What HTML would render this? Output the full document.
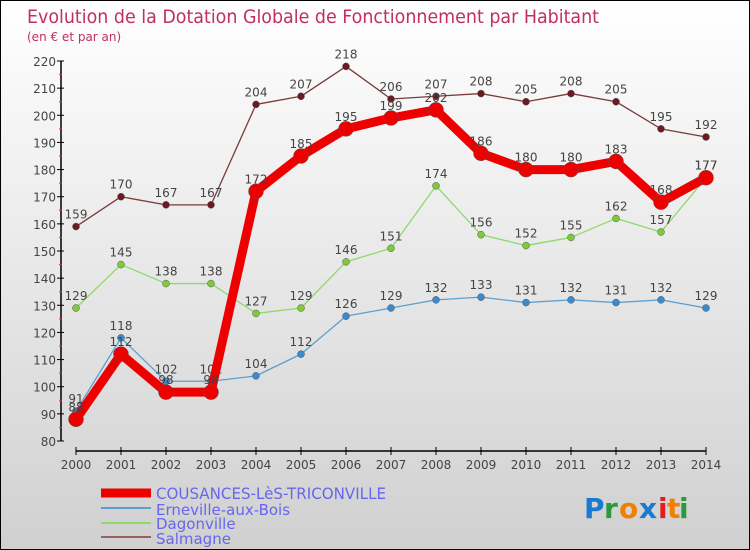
<!DOCTYPE html>
<html><head><meta charset="utf-8"><style>
body{margin:0;}
#c{position:relative;width:748px;height:548px;border:1px solid #000;background:linear-gradient(#ffffff,#d0d0d0);font-family:"DejaVu Sans","Liberation Sans",sans-serif;overflow:hidden;}
svg text{font-family:"DejaVu Sans","Liberation Sans",sans-serif;}
</style></head><body>
<div id="c">
<svg id="s" width="748" height="548" xmlns="http://www.w3.org/2000/svg">
<text x="26" y="22" font-size="19" fill="#c0305a" textLength="572" lengthAdjust="spacingAndGlyphs">Evolution de la Dotation Globale de Fonctionnement par Habitant</text>
<text x="26" y="40" font-size="12" fill="#c0305a">(en € et par an)</text>
<g id="axes"></g><g id="series"></g>
<g>
<line x1="100" y1="492" x2="150" y2="492" stroke="#e00" stroke-width="9"/>
<text x="155" y="498" font-size="16" fill="#6666ee" textLength="230" lengthAdjust="spacingAndGlyphs">COUSANCES-LèS-TRICONVILLE</text>
<line x1="100" y1="507" x2="150" y2="507" stroke="#5b9fcf" stroke-width="2"/>
<text x="155" y="514" font-size="15" fill="#6666ee">Erneville-aux-Bois</text>
<line x1="100" y1="522" x2="150" y2="522" stroke="#8fd96a" stroke-width="2"/>
<text x="155" y="528" font-size="15" fill="#6666ee">Dagonville</text>
<line x1="100" y1="536" x2="150" y2="536" stroke="#9a6060" stroke-width="2"/>
<text x="155" y="543" font-size="15" fill="#6666ee">Salmagne</text>
</g>
<g font-size="28" font-weight="bold">
<text x="583" y="517" fill="#1a7ad0">P</text><text x="603" y="517" fill="#2a9a40">r</text><text x="618" y="517" fill="#f08000">o</text><text x="638" y="517" fill="#1a7ad0">x</text><text x="657" y="517" fill="#e02020">i</text><text x="666" y="517" fill="#f08000">t</text><text x="678" y="517" fill="#2a9a40">i</text>
</g>
</svg></div>
<script>
const years=["2000","2001","2002","2003","2004","2005","2006","2007","2008","2009","2010","2011","2012","2013","2014"];
const yTicks=[80,90,100,110,120,130,140,150,160,170,180,190,200,210,220];
const cousances=[88,112,98,98,172,185,195,199,202,186,180,180,183,168,177];
const erneville=[91,118,102,102,104,112,126,129,132,133,131,132,131,132,129];
const dagonville=[129,145,138,138,127,129,146,151,174,156,152,155,162,157,177];
const salmagne=[159,170,167,167,204,207,218,206,207,208,205,208,205,195,192];
const NS="http://www.w3.org/2000/svg";
function X(i){return 75+i*(630/14);}
function Y(v){return 440-(v-80)*(380/140);}
function mk(t,a,p){const e=document.createElementNS(NS,t);for(const k in a)e.setAttribute(k,a[k]);p.appendChild(e);return e;}
const ax=document.getElementById('axes');
const yl=mk('line',{x1:60,y1:60,x2:60,y2:440,stroke:'#000','stroke-width':1.5},ax);


yTicks.forEach(v=>{
 mk('line',{x1:56,y1:Y(v),x2:63,y2:Y(v),stroke:'#000'},ax);
 if(v<220) mk('line',{x1:58,y1:Y(v+5),x2:61,y2:Y(v+5),stroke:'#e03030'},ax);
 const t=mk('text',{x:55,y:Y(v)+5,'text-anchor':'end','font-size':12,fill:'#444'},ax);t.textContent=v;
 
 
});
const xl=mk('line',{x1:75,y1:450,x2:705,y2:450,stroke:'#000','stroke-width':1.5},ax);


years.forEach((y,i)=>{
 mk('line',{x1:X(i),y1:446,x2:X(i),y2:454,stroke:'#000'},ax);
 const t=mk('text',{x:X(i),y:468,'text-anchor':'middle','font-size':12,fill:'#444'},ax);t.textContent=y;
 
 
});
const sg=document.getElementById('series');
function draw(data,name,color,dot,w,r){
 const g=mk('g',{},sg);
 
 
 const pl=mk('polyline',{points:data.map((v,i)=>X(i)+','+Y(v)).join(' '),fill:'none',stroke:color,'stroke-width':w,'stroke-linejoin':'round'},g);
 
 
 data.forEach((v,i)=>{
  const c=mk('circle',{cx:X(i),cy:Y(v),r:r,fill:dot,stroke:'#555','stroke-width':0.5},g);
  
  
  const t=mk('text',{x:X(i),y:Y(v)-8,'text-anchor':'middle','font-size':12,fill:'#444'},g);t.textContent=v;
  
  
 });
}
draw(salmagne,'salmagne','#7a3a3a','#6a1a20',1.3,3.5);
draw(dagonville,'dagonville','#8fd96a','#7ecb3a',1.3,3.5);
draw(erneville,'erneville','#5b9fcf','#3a8ad0',1.3,3.5);
draw(cousances,'cousances','#ee0000','#ee0000',9,7.5);
</script>
</body></html>
